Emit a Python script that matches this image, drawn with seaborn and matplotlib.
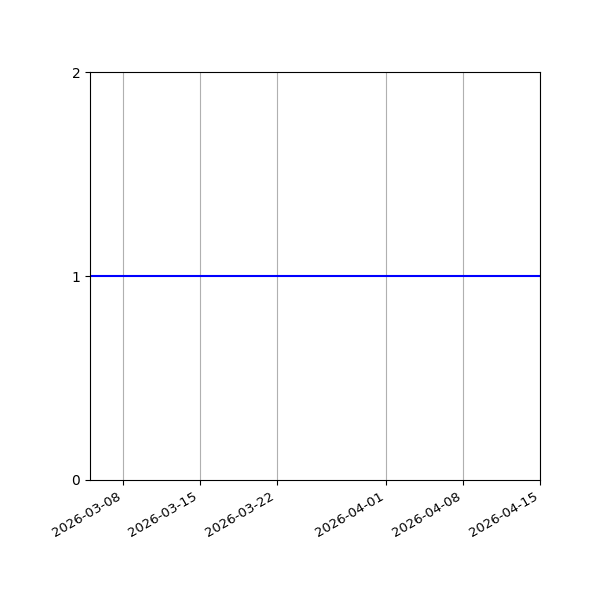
import matplotlib
matplotlib.use('Agg')
import matplotlib.pyplot as plt
import matplotlib.dates as mdates
import seaborn as sns
import pandas as pd

# daily counts, flat at 1 over the whole period
dates = pd.date_range('2026-03-05', '2026-04-15', freq='D')
counts = [1] * len(dates)
tick_dates = ['2026-03-08', '2026-03-15', '2026-03-22', '2026-04-01', '2026-04-08', '2026-04-15']
y_ticks = [0, 1, 2]

df = pd.DataFrame({'date': dates, 'count': counts})

plt.rcParams['font.family'] = ['DejaVu Sans']

fig, ax = plt.subplots(figsize=(6, 6), dpi=100)
sns.lineplot(data=df, x='date', y='count', color='blue', linewidth=1.5, ax=ax)

ax.set_xlim(dates[0], dates[-1])
ax.set_ylim(0, 2)
ax.set_yticks(y_ticks)
ax.set_xticks(pd.to_datetime(tick_dates))
ax.xaxis.set_major_formatter(mdates.DateFormatter('%Y-%m-%d'))
ax.tick_params(axis='x', labelsize=9.5)
ax.grid(axis='x', color='#b0b0b0', linewidth=0.8)
ax.set_xlabel('')
ax.set_ylabel('')

fig.autofmt_xdate()
fig.subplots_adjust(left=0.15, right=0.9, top=0.88, bottom=0.2)
fig.savefig('out.png')
